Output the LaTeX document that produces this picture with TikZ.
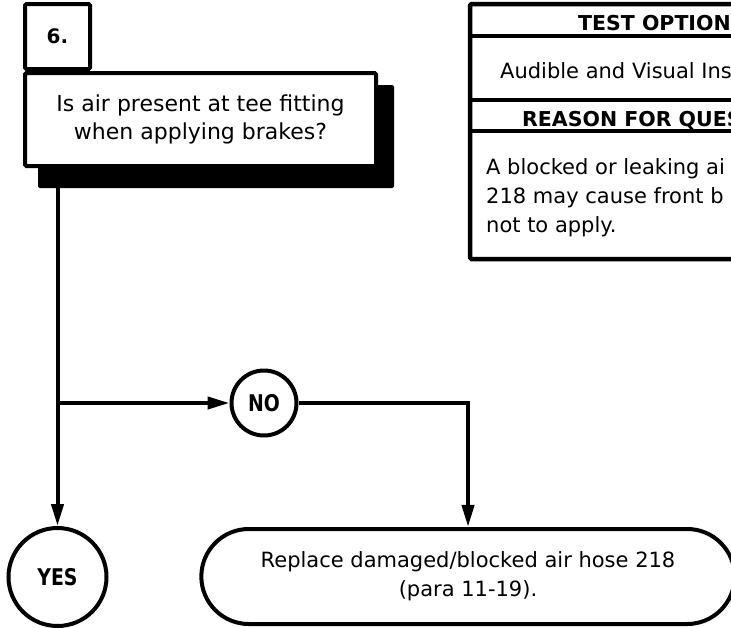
\documentclass[tikz,border=0pt]{standalone}
\usepackage{fontspec}
\setmainfont{DejaVu Sans}
\newfontfamily\answerfont{DejaVu Sans}[FakeStretch=0.82]
\usetikzlibrary{arrows.meta,calc,positioning,backgrounds,shapes.misc}

\tikzset{
  line/.style={line width=4pt},
  arr/.style={line width=4pt,-{Triangle[length=22pt,width=12pt]}},
  numbox/.style={draw,line width=4pt,fill=white,rounded corners=1.5pt,
    minimum width=65pt,minimum height=65pt,font=\bfseries\fontsize{20}{24}\selectfont},
  qbox/.style={draw,line width=4pt,fill=white,rounded corners=1.5pt,
    minimum width=351pt,minimum height=93pt,align=center,font=\fontsize{22}{28}\selectfont},
  answer/.style={draw,circle,line width=4pt,fill=white,inner sep=0pt,
    font=\answerfont\bfseries\fontsize{23}{27}\selectfont},
  endbox/.style={draw,rounded rectangle,line width=4pt,fill=white,
    minimum width=540pt,minimum height=95pt,align=center,font=\fontsize{21}{29}\selectfont},
  head/.style={inner sep=0pt,font=\bfseries\fontsize{20.5}{25}\selectfont},
  body/.style={inner sep=0pt,font=\fontsize{21}{29}\selectfont}
}

\begin{document}
\begin{tikzpicture}[x=1pt,y=-1pt]
\clip (0,0) rectangle (731,627);

% question block with its step number
\node[numbox] (num) at (57.5,36.5) {6.};
\node[qbox,anchor=north west] (q) at (num.south west)
  {Is air present at tee fitting\\when applying brakes?};
\begin{scope}[on background layer]
  \fill[rounded corners=2pt] ($(q.north west)+(15,14)$) rectangle ($(q.south east)+(16,20)$);
\end{scope}

% answers
\node[answer,minimum size=65pt] (no) at (264,403) {NO};
\node[answer,minimum size=98pt] (yes) at (57.5,577) {YES};
\node[endbox] (fix) at (468,576.5) {Replace damaged/blocked air hose 218\\(para 11-19).};

\coordinate (tee) at (yes |- no);
\draw[line] (q.south -| yes) -- (tee);
\draw[arr] (tee) -- (yes);
\draw[arr] (tee) -- (no);
\draw[arr] (no) -| (fix);

% side table
\draw[line width=4.5pt,rounded corners=1.5pt] (470,4) rectangle (820,259);
\draw[line width=4.5pt] (470,36) -- (820,36);
\draw[line width=4.5pt] (470,100) -- (820,100);
\draw[line width=4.5pt] (470,131) -- (820,131);
\node[head,anchor=base west] (opt) at (578,30) {TEST OPTIONS};
\node[body,anchor=base west] (optx) at (500,78) {Audible and Visual Ins};
\node[head,anchor=base west] (why) at (522,126) {REASON FOR QUES};
\node[body,anchor=west,align=left] (whyx) at (486,198)
  {A blocked or leaking ai\\218 may cause front b\\not to apply.};
\end{tikzpicture}
\end{document}
